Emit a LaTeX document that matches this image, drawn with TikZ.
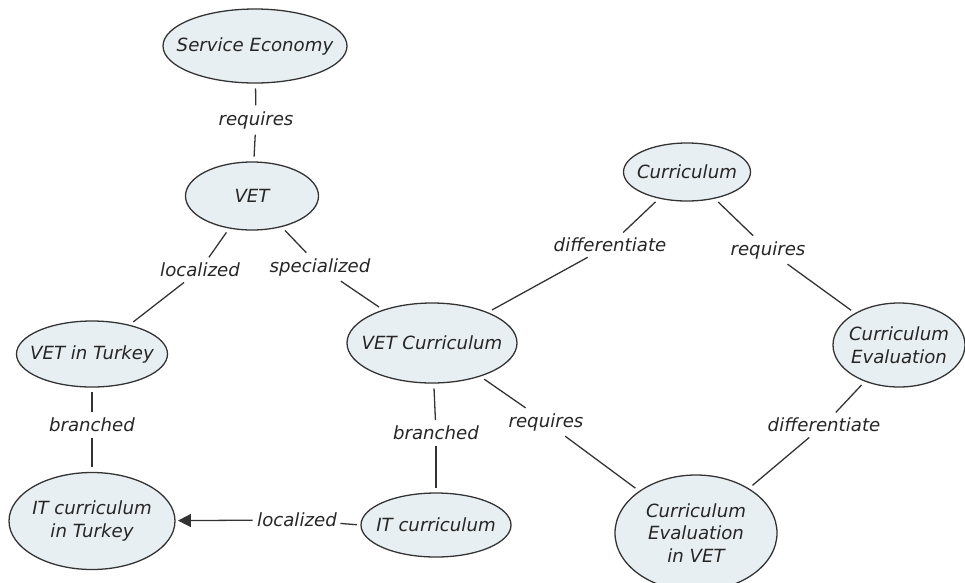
\documentclass[tikz,border=0pt]{standalone}
\usepackage{fontspec}
\setsansfont{DejaVu Sans}
\usetikzlibrary{shapes.geometric,arrows.meta}
\definecolor{conceptfill}{HTML}{E8EFF3}
\definecolor{conceptline}{HTML}{333333}
\tikzset{
  concept/.style={ellipse, draw=conceptline, fill=conceptfill, line width=1.1pt, inner sep=-20pt,
    align=center, font=\sffamily\itshape\fontsize{15.5}{19.5}\selectfont, text=black!85},
  linkword/.style={inner sep=3pt, outer sep=1pt, font=\sffamily\itshape\fontsize{15.5}{19.5}\selectfont, text=black!85},
  tolabel/.style={draw=conceptline, line width=1.1pt, shorten <=4pt, shorten >=1pt},
  fromlabel/.style={draw=conceptline, line width=1.1pt, shorten <=1pt, shorten >=4pt}
}
\begin{document}
\begin{tikzpicture}[x=0.03cm, y=-0.03cm]
\useasboundingbox (0,0) rectangle (965,582);
% concepts
\node[concept, minimum width=184*0.3mm, minimum height=74*0.3mm] (service) at (255,46) {Service Economy};
\node[concept, minimum width=133*0.3mm, minimum height=68*0.3mm] (vet) at (252,196) {VET};
\node[concept, minimum width=151*0.3mm, minimum height=66*0.3mm] (vetturkey) at (92,354) {VET in Turkey};
\node[concept, minimum width=166*0.3mm, minimum height=97*0.3mm] (itturkey) at (92,521) {IT curriculum\\in Turkey};
\node[concept, minimum width=170*0.3mm, minimum height=80*0.3mm] (vetcurr) at (432,343) {VET Curriculum};
\node[concept, minimum width=150*0.3mm, minimum height=64*0.3mm] (itcurr) at (436,525) {IT curriculum};
\node[concept, minimum width=127*0.3mm, minimum height=58*0.3mm] (curr) at (687,172) {Curriculum};
\node[concept, minimum width=132*0.3mm, minimum height=84*0.3mm] (curreval) at (899,345) {Curriculum\\Evaluation};
\node[concept, minimum width=162*0.3mm, minimum height=116*0.3mm] (currevalvet) at (696,533) {Curriculum\\Evaluation\\in VET};
% linking words
\node[linkword] (l1) at (256,120) {requires};
\node[linkword] (l2) at (200,270) {localized};
\node[linkword] (l3) at (320,267) {specialized};
\node[linkword] (l4) at (92,425) {branched};
\node[linkword] (l5) at (436,433) {branched};
\node[linkword, inner xsep=2pt] (l6) at (297,520) {localized};
\node[linkword] (l7) at (546,422) {requires};
\node[linkword] (l8) at (610,245) {differentiate};
\node[linkword] (l9) at (768,250) {requires};
\node[linkword] (l10) at (824,425) {differentiate};
% connectors
\draw[tolabel] (service) -- (l1);
\draw[fromlabel] (l1) -- (vet);
\draw[tolabel] (vet) -- (l2);
\draw[fromlabel] (l2) -- (vetturkey);
\draw[tolabel] (vet) -- (l3);
\draw[fromlabel] (l3) -- (vetcurr);
\draw[tolabel] (vetturkey) -- (l4);
\draw[fromlabel] (l4) -- (itturkey);
\draw[tolabel] (vetcurr) -- (l5);
\draw[fromlabel] (l5) -- (itcurr);
\draw[tolabel, shorten <=3pt, shorten >=0pt] (itcurr.west) -- (l6);
\draw[fromlabel, shorten >=2pt, -{Triangle[length=11pt,width=11pt]}] (l6) -- (itturkey);
\draw[tolabel] (vetcurr) -- (l7);
\draw[fromlabel] (l7) -- (currevalvet);
\draw[tolabel] (vetcurr) -- (l8);
\draw[fromlabel] (l8) -- (curr);
\draw[tolabel] (curr) -- (l9);
\draw[fromlabel] (l9) -- (curreval);
\draw[tolabel] (curreval) -- (l10);
\draw[fromlabel] (l10) -- (currevalvet);
\end{tikzpicture}
\end{document}
